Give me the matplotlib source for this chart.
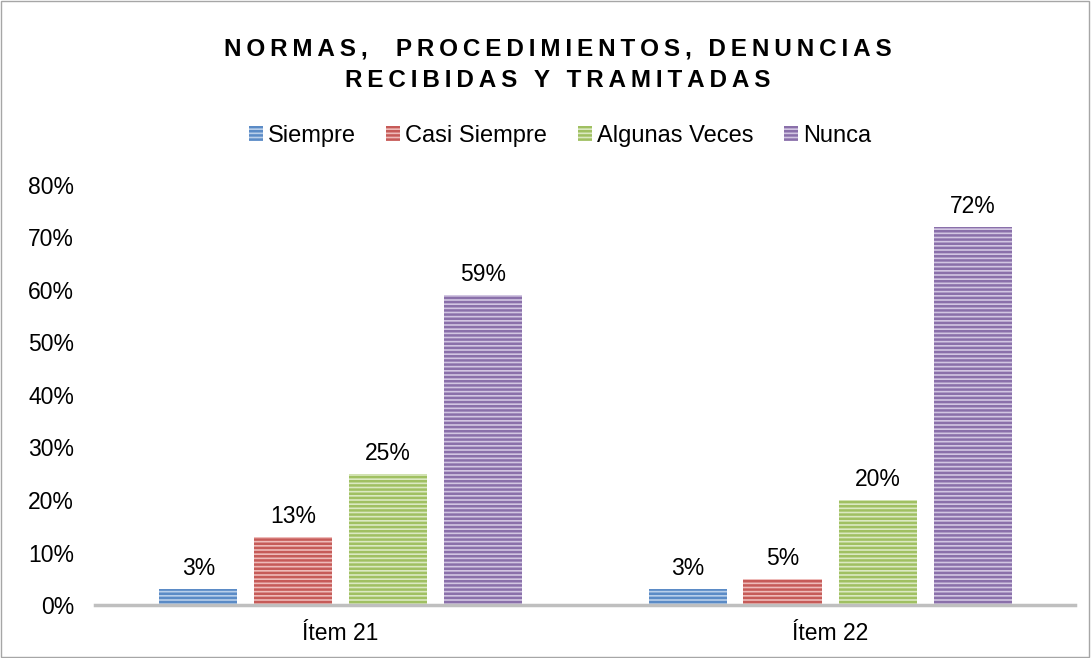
import matplotlib
matplotlib.use("Agg")
import matplotlib.pyplot as plt
from matplotlib.patches import Rectangle

plt.rcParams['font.family'] = ['Liberation Sans', 'DejaVu Sans']
plt.rcParams['hatch.linewidth'] = 1.8

# data
items = ['Ítem 21', 'Ítem 22']
series = ['Siempre', 'Casi Siempre', 'Algunas Veces', 'Nunca']
values = {
    'Siempre': [3, 3],
    'Casi Siempre': [13, 5],
    'Algunas Veces': [25, 20],
    'Nunca': [59, 72],
}
faces = ['#b9cfea', '#eebbb9', '#dbe9c2', '#d2c6e2']
edges = ['#5b8bc6', '#c65b58', '#a0c062', '#8a70aa']

fig = plt.figure(figsize=(10.91, 6.58), dpi=100)
ax = fig.add_axes([0.087, 0.0805, 0.898, 0.6385])

width = 0.16
offsets = [-0.289, -0.096, 0.098, 0.292]
for i, s in enumerate(series):
    xs = [k + offsets[i] for k in range(len(items))]
    bars = ax.bar(xs, [v / 100 for v in values[s]], width, color=faces[i],
                  edgecolor=edges[i], hatch='----', linewidth=0, label=s)
    for b, v in zip(bars, values[s]):
        ax.text(b.get_x() + b.get_width() / 2, b.get_height() + 0.017, f'{v}%',
                ha='center', va='bottom', fontsize=16.5)

ax.set_xlim(-0.5, 1.5)
ax.set_ylim(0, 0.8)
ax.set_yticks([i / 10 for i in range(9)])
ax.set_yticklabels([f'{i * 10}%' for i in range(9)], fontsize=16.5)
ax.set_xticks(range(len(items)))
ax.set_xticklabels(items, fontsize=16.5)
ax.tick_params(axis='y', length=0, pad=15)
ax.tick_params(axis='x', length=0, pad=12)
for sp in ['top', 'right', 'left']:
    ax.spines[sp].set_visible(False)
ax.spines['bottom'].set_color('#bfbfbf')
ax.spines['bottom'].set_linewidth(2.5)

title1 = '\u2009'.join('NORMAS,  PROCEDIMIENTOS, DENUNCIAS')
title2 = '\u2009'.join('RECIBIDAS Y TRAMITADAS')
fig.text(0.511, 0.926, title1, ha='center', va='center', fontsize=17.5, fontweight='bold')
fig.text(0.511, 0.878, title2, ha='center', va='center', fontsize=17.5, fontweight='bold')

leg = fig.legend(loc='center', bbox_to_anchor=(0.513, 0.794), ncol=4, frameon=False,
                 fontsize=17, handlelength=0.6, handleheight=0.6, handletextpad=0.2,
                 columnspacing=1.3)

fig.add_artist(Rectangle((0.001, 0.001), 0.997, 0.997, transform=fig.transFigure,
                         fill=False, edgecolor='#a6a6a6', linewidth=1))

fig.savefig('out.png', dpi=100)
